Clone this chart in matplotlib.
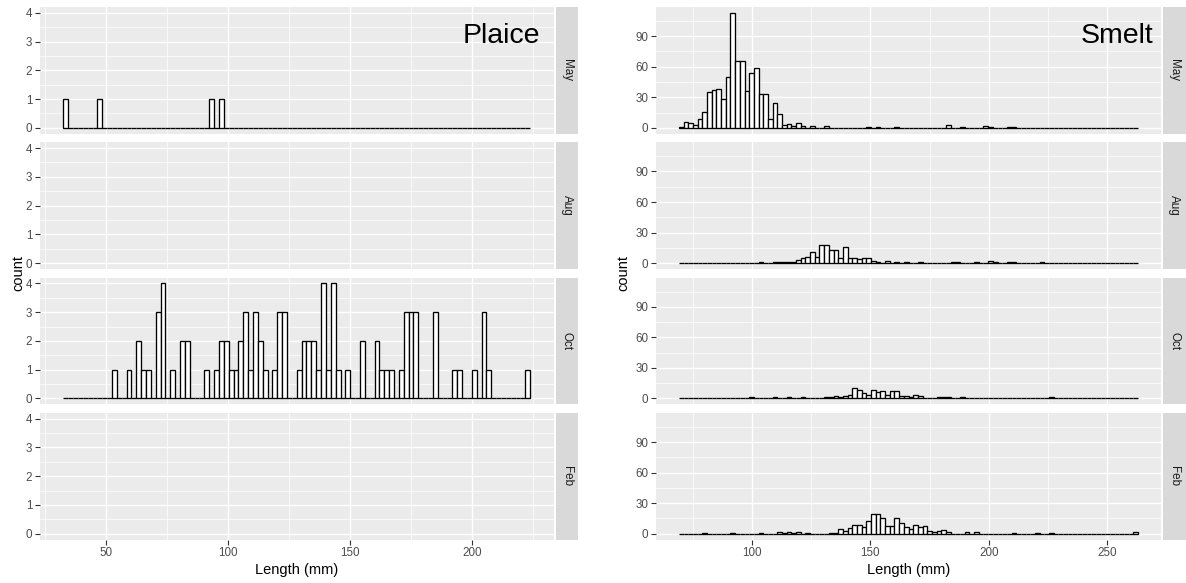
import numpy as np
import matplotlib
matplotlib.use("Agg")
import matplotlib.pyplot as plt
from matplotlib.ticker import FixedLocator

plt.rcParams['font.family'] = ['Liberation Sans', 'DejaVu Sans']

months = ['May', 'Aug', 'Oct', 'Feb']

# ---------------- Plaice (bin index -> count) ----------------
plaice_min_len = 32.6
plaice_binwidth = 1.99
plaice_nbins = 96
plaice_may = {0: 1, 7: 1, 30: 1, 32: 1}
plaice_aug = {}
plaice_oct = {10: 1, 13: 1, 15: 2, 16: 1, 17: 1, 19: 3, 20: 4, 22: 1, 24: 2, 25: 2,
              29: 1, 31: 1, 32: 2, 33: 2, 34: 1, 35: 1, 36: 2, 37: 3, 38: 1, 39: 3,
              40: 2, 41: 1, 43: 1, 44: 3, 45: 3, 48: 1, 49: 2, 50: 2, 51: 2, 52: 1,
              53: 4, 54: 1, 55: 4, 56: 1, 58: 1, 61: 2, 64: 2, 65: 1, 66: 1, 67: 1,
              69: 1, 70: 3, 71: 3, 72: 3, 76: 3, 80: 1, 81: 1, 84: 1, 86: 3, 87: 1,
              95: 1}
plaice_feb = {}

# ---------------- Smelt (bin index -> count) ----------------
smelt_min_len = 69.1
smelt_binwidth = 1.98
smelt_nbins = 98
smelt_may = {0: 1, 1: 6, 2: 5, 3: 3, 4: 9, 5: 16, 6: 35, 7: 37, 8: 38, 9: 28, 10: 50,
             11: 113, 12: 66, 13: 66, 14: 36, 15: 54, 16: 59, 17: 33, 18: 33, 19: 9,
             20: 24, 21: 14, 22: 3, 23: 4, 24: 2, 25: 5, 26: 2, 28: 2, 31: 2, 40: 1,
             42: 1, 46: 1, 57: 3, 60: 1, 65: 2, 66: 1, 70: 1, 71: 1}
smelt_aug = {17: 1, 20: 1, 21: 1, 22: 1, 23: 1, 24: 1, 25: 3, 26: 5, 27: 6, 28: 11,
             29: 6, 30: 18, 31: 18, 32: 13, 33: 13, 34: 5, 35: 16, 36: 5, 37: 5, 38: 4,
             39: 5, 40: 5, 41: 2, 42: 1, 44: 2, 46: 1, 48: 1, 51: 1, 58: 1, 59: 1,
             63: 1, 66: 2, 67: 1, 70: 1, 71: 1, 77: 1}
smelt_oct = {15: 1, 20: 1, 23: 1, 26: 1, 31: 1, 32: 1, 33: 2, 34: 1, 35: 2, 36: 3,
             37: 10, 38: 8, 39: 5, 40: 3, 41: 8, 42: 6, 43: 7, 44: 3, 45: 7, 46: 7,
             47: 2, 48: 2, 49: 1, 50: 3, 51: 2, 55: 1, 56: 1, 57: 1, 60: 1, 79: 1}
smelt_feb = {5: 1, 11: 1, 17: 1, 21: 2, 22: 1, 23: 2, 24: 1, 25: 2, 27: 1, 32: 1,
             33: 1, 34: 5, 35: 3, 36: 6, 37: 9, 38: 9, 39: 7, 40: 13, 41: 19, 42: 19,
             43: 15, 44: 8, 45: 8, 46: 15, 47: 11, 48: 7, 49: 5, 50: 9, 51: 7, 52: 8,
             53: 3, 54: 2, 55: 3, 56: 4, 57: 2, 61: 2, 63: 2, 71: 1, 76: 1, 79: 1,
             97: 2}

plaice_x_ticks = [50, 100, 150, 200]
plaice_y_ticks = [0, 1, 2, 3, 4]
smelt_x_ticks = [100, 150, 200, 250]
smelt_y_ticks = [0, 30, 60, 90]

W, H = 1186, 583
fig = plt.figure(figsize=(W / 100, H / 100), dpi=100)

BG = '#EBEBEB'
STRIP = '#D9D9D9'
TICKC = '#4D4D4D'


def px_axes(x0, y0, x1, y1):
    return fig.add_axes([x0 / W, 1 - y1 / H, (x1 - x0) / W, (y1 - y0) / H])


def counts_array(d, n):
    c = np.zeros(n)
    for k, v in d.items():
        c[k] = v
    return c


def minor_between(ticks, lo, hi):
    step = ticks[1] - ticks[0]
    m = [t + step / 2 for t in [ticks[0] - step] + list(ticks)]
    return [v for v in m if lo <= v <= hi]


row_tops = [7, 142.3, 277.6, 412.9]
row_h = 126.6


def draw_species(data, min_len, bw, nbins, xticks, yticks, px_left, px_right,
                 strip_l, strip_r, title, title_x, ylabel_x):
    edges = min_len + bw * np.arange(nbins + 1)
    rng = edges[-1] - edges[0]
    xlim = (edges[0] - 0.05 * rng, edges[-1] + 0.05 * rng)
    ymax = max(max(d.values()) if d else 0 for d in data)
    ylim = (-0.05 * ymax, 1.05 * ymax)
    for r, (m, d) in enumerate(zip(months, data)):
        top = row_tops[r]
        ax = px_axes(px_left, top, px_right, top + row_h)
        ax.set_facecolor(BG)
        for s in ax.spines.values():
            s.set_visible(False)
        ax.set_xlim(*xlim)
        ax.set_ylim(*ylim)
        ax.xaxis.set_major_locator(FixedLocator(xticks))
        ax.xaxis.set_minor_locator(FixedLocator(minor_between(xticks, *xlim)))
        ax.yaxis.set_major_locator(FixedLocator(yticks))
        ax.yaxis.set_minor_locator(FixedLocator(minor_between(yticks, *ylim)))
        ax.grid(which='major', color='white', linewidth=1.0)
        ax.grid(which='minor', color='white', linewidth=0.5)
        ax.set_axisbelow(True)
        ax.tick_params(which='minor', length=0)
        ax.tick_params(which='major', color='#333333', length=3.5, width=0.8,
                       labelcolor=TICKC, labelsize=8.4, pad=2)
        if d:
            c = counts_array(d, nbins)
            ax.bar(edges[:-1], c, width=bw, align='edge', color='white',
                   edgecolor='black', linewidth=0.95)
        if r < 3:
            ax.tick_params(axis='x', which='major', length=0, labelbottom=False)
        else:
            ax.set_xlabel('Length (mm)', fontsize=10.5, color='black', labelpad=3)
        # strip
        sax = px_axes(strip_l, top, strip_r, top + row_h)
        sax.set_facecolor(STRIP)
        sax.set_xticks([])
        sax.set_yticks([])
        for s in sax.spines.values():
            s.set_visible(False)
        sax.text(0.5, 0.5, m, rotation=270, ha='center', va='center',
                 fontsize=8.4, color='#1A1A1A', transform=sax.transAxes)
        if r == 0:
            fig.text(title_x / W, 1 - 43 / H, title, ha='right', va='baseline',
                     fontsize=20.5, color='black')
    fig.text(ylabel_x / W, 1 - 273 / H, 'count', rotation=90, ha='center',
             va='center', fontsize=10.5, color='black')


draw_species([plaice_may, plaice_aug, plaice_oct, plaice_feb], plaice_min_len,
             plaice_binwidth, plaice_nbins, plaice_x_ticks, plaice_y_ticks,
             40, 553.5, 555.5, 578, 'Plaice', 540, 18)
draw_species([smelt_may, smelt_aug, smelt_oct, smelt_feb], smelt_min_len,
             smelt_binwidth, smelt_nbins, smelt_x_ticks, smelt_y_ticks,
             656, 1161, 1163, 1185.5, 'Smelt', 1153, 623)

fig.savefig('out.png', dpi=100, facecolor='white')
